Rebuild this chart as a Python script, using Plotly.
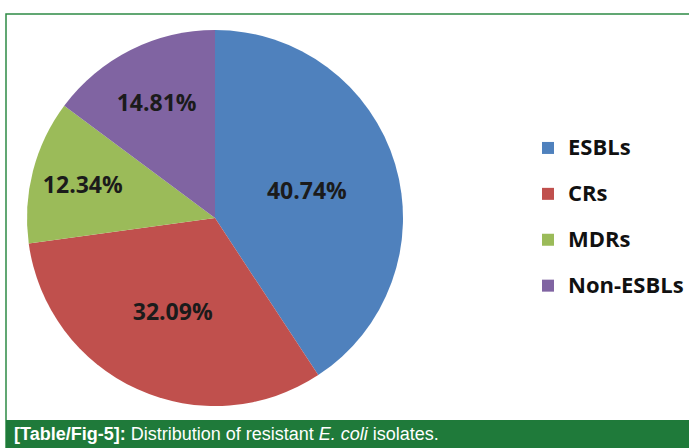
import plotly.graph_objects as go

categories = ["ESBLs", "CRs", "MDRs", "Non-ESBLs"]
values = [40.74, 32.09, 12.34, 14.81]
colors = ["#4F81BD", "#C0504D", "#9BBB59", "#8064A2"]

W, H = 689, 448
cx, cy, r = 215, 218, 188

legend_labels = ["<span style='font-size:22px;baseline-shift:6px'>%s</span>" % c for c in categories]

fig = go.Figure()
fig.add_trace(go.Pie(
    labels=legend_labels,
    values=values,
    sort=False,
    direction="clockwise",
    rotation=0,
    marker=dict(colors=colors, line=dict(width=0)),
    texttemplate="%{value:.2f}%",
    textposition="inside",
    insidetextorientation="horizontal",
    textfont=dict(family="Open Sans", size=23, color="#1b1b1b", weight="bold"),
    domain=dict(x=[(cx - r) / W, (cx + r) / W], y=[1 - (cy + r) / H, 1 - (cy - r) / H]),
    hoverinfo="percent",
))

fig.update_layout(
    width=W, height=H,
    margin=dict(l=0, r=0, t=0, b=0),
    paper_bgcolor="white",
    plot_bgcolor="white",
    showlegend=True,
    legend=dict(
        x=528 / W, y=1 - 120 / H, xanchor="left", yanchor="top",
        font=dict(family="Open Sans", size=33, color="#111111", weight="bold"),
        itemwidth=30,
        tracegroupgap=0,
    ),
    shapes=[
        dict(type="rect", xref="paper", yref="paper", x0=6 / W, x1=1.01, y0=0, y1=1 - 14 / H,
             line=dict(color="#2E8B45", width=1.5), fillcolor="rgba(0,0,0,0)", layer="below"),
        dict(type="rect", xref="paper", yref="paper", x0=6 / W, x1=1.01, y0=0, y1=28 / H,
             line=dict(width=0), fillcolor="#1F7A3A"),
    ],
    annotations=[
        dict(xref="paper", yref="paper", x=12 / W, y=14 / H, xanchor="left", yanchor="middle",
             showarrow=False,
             text="<b>[Table/Fig-5]:</b> Distribution of resistant <i>E. coli</i> isolates.",
             font=dict(family="Liberation Sans Narrow, Arial Narrow, Liberation Sans", size=18, color="white")),
    ],
)

fig.write_html("out.html", config={"displayModeBar": False},
               post_script="document.body.style.margin='0';document.body.style.overflow='hidden';")
